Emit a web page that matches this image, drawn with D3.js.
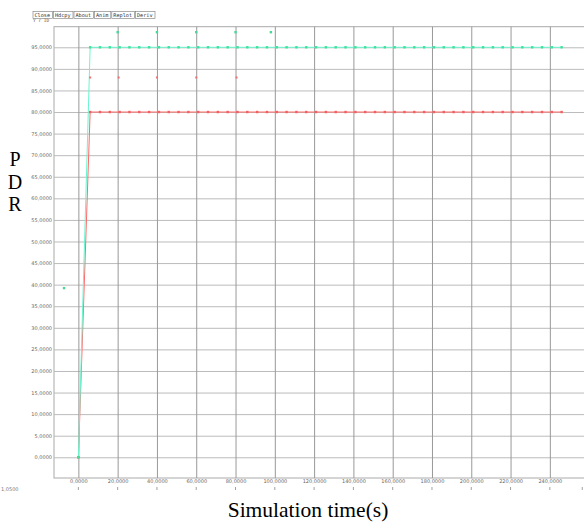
<!DOCTYPE html>
<html><head><meta charset="utf-8">
<script src="https://cdn.jsdelivr.net/npm/d3@7"></script>
<style>body{margin:0;background:#fff}svg{display:block}</style>
</head><body>
<script>
// ---- data ----
const xTicks = [0,20,40,60,80,100,120,140,160,180,200,220,240];
const yTicks = [0,5,10,15,20,25,30,35,40,45,50,55,60,65,70,75,80,85,90,95];
const times = [0,6,11,16,21,26,31,36,41,46,51,56,61,66,71,76,81,86,91,96,101,106,111,116,121,126,131,136,141,146,151,156,161,166,171,176,181,186,191,196,201,206,211,216,221,226,231,236,241,246];
const greenVals = [0,95,95,95,95,95,95,95,95,95,95,95,95,95,95,95,95,95,95,95,95,95,95,95,95,95,95,95,95,95,95,95,95,95,95,95,95,95,95,95,95,95,95,95,95,95,95,95,95,95];
const redVals   = [0,80,80,80,80,80,80,80,80,80,80,80,80,80,80,80,80,80,80,80,80,80,80,80,80,80,80,80,80,80,80,80,80,80,80,80,80,80,80,80,80,80,80,80,80,80,80,80,80,80];
const greenExtraT = [-7.3,20,40,60,80,98];
const greenExtraV = [39.2,98.5,98.5,98.5,98.5,98.5];
const redExtraT = [6,20.5,40,60,80.5];
const redExtraV = [88,88,88,88,88];
const buttons = ["Close","Hdcpy","About","Anim","Replot","Deriv"];

const W=584,H=525;
const svg=d3.select("body").append("svg").attr("width",W).attr("height",H);
const x=d3.scaleLinear().domain([-12.4,258.4]).range([54,586]);
const y=d3.scaleLinear().domain([-4.8,99.77]).range([478,26.7]);

// buttons
let bx=33;
buttons.forEach(b=>{
  svg.append("text").attr("x",bx+1.5).attr("y",17).attr("font-family","DejaVu Sans Mono")
    .attr("font-size",5.2).attr("fill","#333").text(b);
  const w=b.length*3.2+3.5;
  svg.append("rect").attr("x",bx).attr("y",11.5).attr("width",w).attr("height",7)
    .attr("fill","none").attr("stroke","#777").attr("stroke-width",0.6);
  bx+=w+1;
});
svg.append("text").attr("x",33).attr("y",22).attr("font-family","DejaVu Sans Mono")
  .attr("font-size",4.5).attr("fill","#555").text("Y r ID");

// plot frame
svg.append("rect").attr("x",54).attr("y",26.7).attr("width",532).attr("height",451.3)
  .attr("fill","none").attr("stroke","#aaa").attr("stroke-width",1);

// y grid + labels
const yAxis=d3.axisLeft(y).tickValues(yTicks).tickSize(-532)
  .tickFormat(d=>d3.format(".4f")(d).replace(".",","));
const gy=svg.append("g").attr("transform","translate(54,0)").call(yAxis);
gy.select(".domain").remove();
gy.selectAll("line").attr("stroke","#bbb").attr("stroke-width",1);
gy.selectAll("text").attr("font-family","DejaVu Sans").attr("font-size",5).attr("fill","#666").attr("x",-2);

// x grid + labels
const xAxis=d3.axisBottom(x).tickValues(xTicks).tickSize(-451.3)
  .tickFormat(d=>d3.format(".4f")(d).replace(".",","));
const gx=svg.append("g").attr("transform","translate(0,478)").call(xAxis);
gx.select(".domain").remove();
gx.selectAll("line").attr("stroke","#999").attr("stroke-width",1);
gx.selectAll("text").attr("font-family","DejaVu Sans").attr("font-size",5).attr("fill","#666").attr("y",2.5).attr("dy","0.5em");
// small ticks below labels
svg.append("g").selectAll("line").data(xTicks.concat([256.5])).join("line")
  .attr("x1",d=>x(d)).attr("x2",d=>x(d)).attr("y1",487).attr("y2",490)
  .attr("stroke","#888").attr("stroke-width",0.8);
svg.append("text").attr("x",1).attr("y",491).attr("font-family","DejaVu Sans").attr("font-size",5).attr("fill","#777").text("1,0500");

// series
const line=d3.line().x(d=>x(d[0])).y(d=>y(d[1]));
const red=times.map((t,i)=>[t,redVals[i]]);
const green=times.map((t,i)=>[t,greenVals[i]]);
svg.append("path").datum(red).attr("d",line).attr("fill","none").attr("stroke","#ff6a6a").attr("stroke-width",1);
svg.append("path").datum(green).attr("d",line).attr("fill","none").attr("stroke","#6af5d0").attr("stroke-width",1);
svg.append("g").selectAll("rect").data(red).join("rect")
  .attr("x",d=>x(d[0])-1.2).attr("y",d=>y(d[1])-1.2).attr("width",2.4).attr("height",2.4).attr("fill","#f26060");
svg.append("g").selectAll("rect").data(green).join("rect")
  .attr("x",d=>x(d[0])-1.2).attr("y",d=>y(d[1])-1.2).attr("width",2.4).attr("height",2.4).attr("fill","#3ce39a");
svg.append("g").selectAll("rect").data(greenExtraT.map((t,i)=>[t,greenExtraV[i]])).join("rect")
  .attr("x",d=>x(d[0])-1.2).attr("y",d=>y(d[1])-1.2).attr("width",2.4).attr("height",2.4).attr("fill","#48d898");
svg.append("g").selectAll("rect").data(redExtraT.map((t,i)=>[t,redExtraV[i]])).join("rect")
  .attr("x",d=>x(d[0])-1).attr("y",d=>y(d[1])-1).attr("width",2).attr("height",2).attr("fill","#f07070");

// titles
["P","D","R"].forEach((c,i)=>{
  svg.append("text").attr("x",15).attr("y",166+i*22.5).attr("text-anchor","middle")
    .attr("font-family","Liberation Serif").attr("font-size",20).attr("fill","#000").text(c);
});
svg.append("text").attr("x",308).attr("y",517).attr("text-anchor","middle")
  .attr("font-family","Liberation Serif").attr("font-size",21.5).attr("fill","#000").text("Simulation time(s)");
</script>
</body></html>
